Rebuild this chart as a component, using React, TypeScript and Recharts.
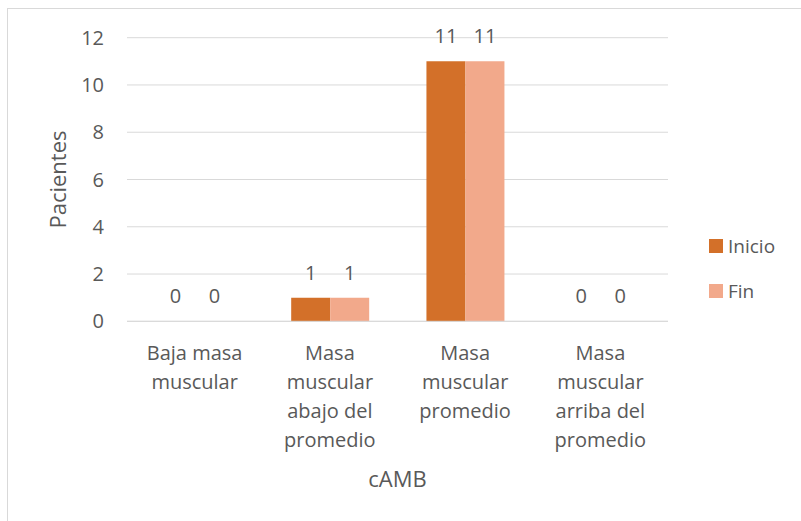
import React from "react";
import { BarChart, Bar, XAxis, YAxis, CartesianGrid, LabelList, Label, Rectangle } from "recharts";

const categories = [
  "Baja masa\nmuscular",
  "Masa\nmuscular\nabajo del\npromedio",
  "Masa\nmuscular\npromedio",
  "Masa\nmuscular\narriba del\npromedio",
];
const inicio = [0, 1, 11, 0];
const fin = [0, 1, 11, 0];
const yTicks = [0, 2, 4, 6, 8, 10, 12];
const seriesNames = ["Inicio", "Fin"];

const data = categories.map((c, i) => ({ name: c, Inicio: inicio[i], Fin: fin[i] }));

const FONT = "'Open Sans', sans-serif";
const TXT = "#595959";
const C_INICIO = "#D37029";
const C_FIN = "#F2A98B";
const colors = [C_INICIO, C_FIN];
const FS = 20;

const XTick = (props: any) => {
  const { x, y, payload } = props;
  const lines = String(payload.value).split("\n");
  return (
    <text x={x} y={y} textAnchor="middle" fill={TXT} fontFamily={FONT} fontSize={FS}>
      {lines.map((l, i) => (
        <tspan key={i} x={x} dy={i === 0 ? 39 : 29}>
          {l}
        </tspan>
      ))}
    </text>
  );
};

const BarShape = (props: any) => {
  const { value } = props;
  const v = Array.isArray(value) ? value[1] - value[0] : value;
  if (!v) return <g />;
  return <Rectangle {...props} />;
};

const ValueLabel = (props: any) => {
  const { x, y, width, height, value } = props;
  const top = value ? y : y + height;
  return (
    <text x={x + width / 2} y={top - 18} textAnchor="middle" fill={TXT} fontFamily={FONT} fontSize={FS}>
      {value}
    </text>
  );
};

export default function App() {
  return (
    <div style={{ position: "absolute", left: 0, top: 0, width: 801, height: 521, overflow: "hidden", background: "#fff" }}>
      <div
        style={{
          position: "absolute",
          left: 7,
          top: 8,
          width: 900,
          height: 600,
          border: "1px solid #D9D9D9",
          boxSizing: "border-box",
        }}
      />
      <div style={{ position: "absolute", left: 0, top: 0 }}>
        <BarChart
          width={801}
          height={521}
          data={data}
          margin={{ top: 37.7, right: 133, bottom: 0, left: 0 }}
          barCategoryGap="21.4%"
          barGap={0}
        >
          <CartesianGrid vertical={false} stroke="#D9D9D9" strokeWidth={1} />
          <XAxis
            dataKey="name"
            height={199.7}
            tick={<XTick />}
            tickLine={false}
            tickSize={0}
            tickMargin={0}
            axisLine={{ stroke: "#D9D9D9" }}
            interval={0}
          >
            <Label
              value="cAMB"
              position="insideTop"
              offset={0}
              dy={150}
              fill={TXT}
              fontFamily={FONT}
              fontSize={22}
            />
          </XAxis>
          <YAxis
            width={127}
            domain={[0, 12]}
            ticks={yTicks}
            axisLine={false}
            tickLine={false}
            tickSize={0}
            tickMargin={23}
            tick={{ fill: TXT, fontFamily: FONT, fontSize: FS }}
          >
            <Label
              value="Pacientes"
              angle={-90}
              position="insideLeft"
              offset={0}
              dx={58}
              fill={TXT}
              fontFamily={FONT}
              fontSize={22}
              style={{ textAnchor: "middle" }}
            />
          </YAxis>
          <Bar dataKey="Inicio" fill={C_INICIO} isAnimationActive={false} minPointSize={0.001} shape={<BarShape />}>
            <LabelList dataKey="Inicio" content={<ValueLabel />} />
          </Bar>
          <Bar dataKey="Fin" fill={C_FIN} isAnimationActive={false} minPointSize={0.001} shape={<BarShape />}>
            <LabelList dataKey="Fin" content={<ValueLabel />} />
          </Bar>
        </BarChart>
      </div>
      <div style={{ position: "absolute", left: 709, top: 223.5, fontFamily: FONT, fontSize: 19, color: TXT }}>
        {seriesNames.map((n, i) => (
          <div key={n} style={{ height: 45, display: "flex", alignItems: "center" }}>
            <div style={{ width: 14, height: 14, background: colors[i], marginRight: 5 }} />
            <span>{n}</span>
          </div>
        ))}
      </div>
    </div>
  );
}
